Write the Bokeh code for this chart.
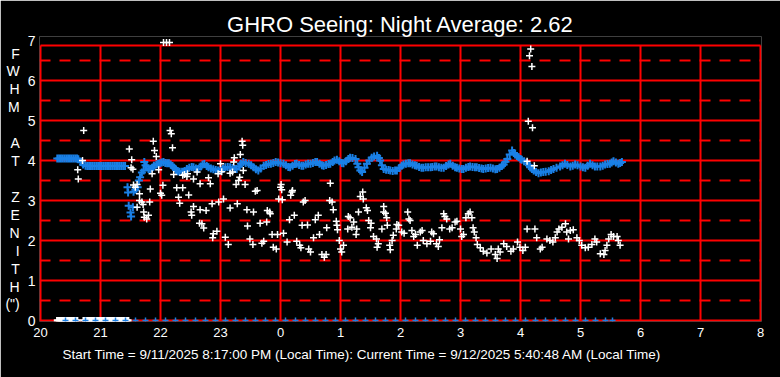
from bokeh.plotting import figure
from bokeh.models import FixedTicker, ColumnDataSource, Title
from bokeh.embed import file_html
from bokeh.resources import INLINE

# ---------------- data ----------------
title_text = "GHRO Seeing: Night Average: 2.62"
footer_text = ("Start Time = 9/11/2025 8:17:00 PM (Local Time): "
               "Current Time = 9/12/2025 5:40:48 AM (Local Time)")
y_letters = ["F", "W", "H", "M", " ", "A", "T", " ", "Z", "E", "N", "I", "T", "H", '(")']
hour_ticks = [20, 21, 22, 23, 24, 25, 26, 27, 28, 29, 30, 31, 32]
hour_labels = ["20", "21", "22", "23", "0", "1", "2", "3", "4", "5", "6", "7", "8"]
y_ticks = [0, 1, 2, 3, 4, 5, 6, 7]

# white "+" : measured FWHM (hours after 20:00 continue past 24)
white_t = [20.72, 20.70, 20.62, 20.63, 21.48, 21.52, 21.51, 21.54, 21.55, 21.61, 21.58, 21.65, 21.65, 21.69,
           21.61, 21.71, 21.72, 21.73, 21.77, 21.80, 21.88, 21.90, 21.93, 21.86, 21.83, 21.82, 21.97, 22.00,
           22.02, 22.04, 22.16, 22.18, 22.20, 22.22, 22.27, 22.30, 22.32, 22.37, 22.37, 22.47, 22.55, 22.51,
           22.52, 22.55, 22.61, 22.65, 22.45, 22.66, 22.80, 22.83, 22.66, 22.76, 22.86, 22.97, 23.05, 23.16,
           23.28, 23.44, 23.55, 23.66, 23.78, 23.83, 23.77, 23.97, 24.00, 22.69, 22.72, 22.88, 22.87, 22.94,
           23.08, 23.13, 23.45, 23.49, 23.54, 23.69, 23.86, 23.95, 23.88, 23.00, 23.23, 23.22, 23.33, 23.36,
           23.37, 23.38, 23.32, 23.30, 23.26, 23.41, 23.61, 23.20, 23.02, 22.44, 22.40, 22.96, 23.16, 23.58,
           24.01, 24.02, 24.20, 24.19, 24.17, 24.03, 23.82, 23.72, 23.93, 24.05, 24.15, 24.23, 24.11, 24.27,
           24.32, 24.34, 24.36, 24.45, 24.38, 24.41, 24.55, 24.58, 24.63, 24.65, 24.47, 24.50, 24.69, 24.73,
           24.76, 24.77, 24.82, 24.86, 24.88, 24.83, 24.93, 24.94, 24.95, 24.98, 25.00, 25.02, 25.05, 25.12,
           25.13, 25.16, 25.19, 25.22, 25.27, 25.26, 25.33, 25.37, 25.38, 25.43, 25.45, 25.30, 25.47, 25.50,
           25.51, 25.55, 25.60, 25.61, 25.63, 25.69, 25.72, 25.75, 25.77, 25.72, 25.78, 25.82, 25.83, 25.86,
           25.88, 25.94, 25.97, 25.93, 26.02, 26.06, 26.12, 26.14, 26.16, 26.19, 26.22, 26.25, 26.28, 26.33,
           26.36, 26.38, 26.44, 26.50, 26.52, 26.55, 26.60, 26.63, 26.65, 26.69, 26.72, 26.74, 26.77, 26.82,
           26.86, 26.91, 26.94, 27.00, 27.02, 27.05, 27.09, 27.13, 27.16, 27.19, 27.21, 27.23, 27.26, 27.28,
           27.33, 27.38, 27.44, 27.51, 27.58, 27.63, 27.61, 27.66, 27.72, 27.77, 27.84, 27.88, 27.95, 27.99,
           28.04, 28.08, 28.11, 28.24, 28.27, 28.33, 28.36, 28.44, 28.49, 28.54, 28.58, 28.61, 28.64, 28.69,
           28.75, 28.77, 28.80, 28.83, 28.88, 28.94, 28.98, 29.02, 29.08, 29.13, 29.19, 29.24, 29.27, 29.33,
           29.39, 29.41, 29.44, 29.47, 29.51, 29.55, 29.61, 29.63, 29.66, 28.11, 28.23, 28.17, 28.15, 28.19,
           28.13, 28.20, 22.05, 22.10, 22.15]
white_fwhm = [4.75, 4.00, 3.77, 3.54, 4.29, 4.02, 3.82, 3.78, 3.39, 3.40, 3.33, 3.17, 3.00, 2.96,
              2.83, 2.90, 2.71, 2.58, 2.54, 2.63, 4.48, 4.25, 4.10, 3.67, 3.29, 2.96, 3.77, 3.18,
              3.13, 3.38, 4.75, 4.67, 4.32, 3.65, 3.32, 3.08, 2.93, 3.32, 3.63, 3.14, 3.54, 2.71,
              2.63, 2.85, 3.71, 2.43, 3.67, 3.42, 3.57, 3.42, 2.77, 2.75, 2.92, 2.96, 3.04, 2.81,
              2.92, 2.77, 2.71, 2.43, 2.75, 2.67, 2.46, 3.04, 3.33, 2.42, 2.31, 2.17, 2.07, 2.23,
              2.08, 1.90, 2.36, 2.04, 1.90, 1.93, 2.15, 2.15, 1.83, 3.92, 4.07, 3.96, 4.15, 4.48,
              4.38, 3.75, 3.58, 3.50, 3.40, 3.40, 3.25, 3.71, 3.72, 3.60, 3.65, 3.67, 3.68, 3.23,
              3.40, 3.27, 3.25, 3.21, 3.13, 3.02, 2.71, 1.98, 1.79, 2.18, 2.52, 2.63, 1.96, 1.98,
              1.88, 1.82, 2.38, 2.39, 2.96, 3.00, 2.07, 2.52, 2.63, 2.15, 1.79, 1.71, 1.65, 1.58,
              1.65, 2.32, 3.00, 2.96, 2.77, 3.43, 2.48, 2.38, 2.27, 2.00, 1.79, 1.71, 1.88, 2.29,
              2.60, 2.57, 2.33, 2.46, 2.29, 2.15, 3.10, 3.21, 3.04, 2.82, 2.75, 2.71, 2.50, 2.32,
              2.43, 2.10, 2.04, 1.83, 1.92, 2.29, 2.85, 2.68, 2.57, 2.71, 2.38, 1.88, 1.77, 2.00,
              2.13, 2.40, 2.38, 2.29, 2.21, 2.18, 2.71, 2.54, 2.50, 2.25, 2.10, 2.15, 1.88, 2.21,
              2.25, 2.00, 1.92, 1.98, 2.21, 2.17, 1.92, 1.85, 2.02, 2.32, 2.67, 2.60, 2.54, 2.29,
              2.32, 2.46, 2.48, 2.29, 2.10, 2.15, 2.57, 2.67, 2.71, 2.57, 2.32, 2.21, 2.07, 1.90,
              1.82, 1.73, 1.69, 1.79, 1.65, 1.79, 1.55, 1.71, 1.92, 1.85, 1.73, 1.79, 1.96, 1.83,
              1.75, 1.83, 2.29, 2.29, 2.07, 1.79, 1.83, 2.04, 2.00, 1.96, 2.07, 2.21, 2.29, 2.33,
              2.42, 2.21, 2.04, 2.25, 2.27, 2.07, 2.00, 1.88, 1.82, 1.83, 1.90, 2.04, 1.96, 1.67,
              1.65, 1.75, 1.88, 2.04, 2.15, 2.10, 2.10, 2.00, 1.88, 3.98, 3.87, 6.79, 6.62, 6.35,
              4.98, 4.82, 6.95, 6.95, 6.95]

# blue "+" series
blue_t = [20.28, 20.31, 20.34, 20.37, 20.40, 20.43, 20.46, 20.49, 20.52, 20.55, 20.58, 20.61,
          20.63, 20.67, 20.71, 20.75, 20.78, 20.81, 20.84, 20.87, 20.90, 20.93, 20.96, 20.99,
          21.02, 21.05, 21.08, 21.11, 21.14, 21.17, 21.20, 21.23, 21.26, 21.29, 21.32, 21.35,
          21.38, 21.41, 21.45, 21.46, 21.47, 21.50, 21.51, 21.54, 21.55, 21.58, 21.62, 21.64,
          21.66, 21.69, 21.72, 21.73,
          21.75, 21.77, 21.80, 21.83, 21.86, 21.89, 21.93, 21.96, 21.99, 22.02, 22.05, 22.08,
          22.11, 22.14, 22.17, 22.20, 22.23, 22.26, 22.29, 22.32, 22.36, 22.40, 22.44, 22.48,
          22.52, 22.55, 22.59, 22.63, 22.67, 22.70, 22.73, 22.77, 22.80, 22.84, 22.88, 22.92,
          22.96, 23.00, 23.04, 23.08, 23.12, 23.16, 23.20, 23.24, 23.27, 23.31, 23.34, 23.38,
          23.42, 23.47, 23.51, 23.55, 23.59, 23.63, 23.67, 23.72, 23.76, 23.80, 23.84, 23.88,
          23.92, 23.96, 24.00, 24.05, 24.09, 24.13, 24.16, 24.20, 24.24, 24.27, 24.31, 24.35,
          24.38, 24.42, 24.46, 24.50, 24.54, 24.58, 24.61, 24.65, 24.69, 24.72, 24.76, 24.80,
          24.83, 24.87, 24.90, 24.94, 24.98, 25.02, 25.05, 25.09, 25.13, 25.16, 25.20, 25.25,
          25.28, 25.30, 25.33, 25.36, 25.40, 25.44, 25.48, 25.52, 25.56, 25.61, 25.64, 25.66,
          25.69, 25.72, 25.76, 25.80, 25.83, 25.87, 25.91, 25.94, 25.98, 26.02, 26.05, 26.09,
          26.13, 26.16, 26.20, 26.24, 26.27, 26.31, 26.35, 26.38, 26.42, 26.46, 26.50, 26.53,
          26.57, 26.60, 26.64, 26.68, 26.72, 26.76, 26.80, 26.83, 26.87, 26.91, 26.94, 26.98,
          27.02, 27.05, 27.09, 27.13, 27.16, 27.20, 27.24, 27.27, 27.31, 27.35, 27.38, 27.42,
          27.46, 27.50, 27.54, 27.58, 27.61, 27.65, 27.69, 27.72, 27.75, 27.78, 27.82, 27.86,
          27.89, 27.91, 27.94, 27.97, 28.00, 28.02, 28.06, 28.11, 28.14, 28.16, 28.19, 28.22,
          28.26, 28.30, 28.34, 28.38, 28.42, 28.47, 28.51, 28.55, 28.60, 28.66, 28.70, 28.74,
          28.78, 28.83, 28.87, 28.91, 28.95, 29.00, 29.04, 29.08, 29.12, 29.16, 29.20, 29.24,
          29.28, 29.33, 29.37, 29.41, 29.45, 29.49, 29.52, 29.55, 29.59, 29.63, 29.66, 29.69]
blue_fwhm = [4.05, 4.05, 4.05, 4.05, 4.05, 4.05, 4.05, 4.05, 4.05, 4.05, 4.05, 4.05,
             4.03, 3.96, 3.90, 3.87, 3.86, 3.86, 3.86, 3.86, 3.86, 3.86, 3.86, 3.86,
             3.86, 3.86, 3.86, 3.86, 3.86, 3.86, 3.86, 3.86, 3.86, 3.86, 3.86, 3.86,
             3.86, 3.86, 3.33, 3.20, 2.87, 2.70, 2.60, 2.83, 3.22, 3.27, 3.33, 3.50,
             3.58, 3.70, 3.75, 3.96,
             3.88, 3.85, 3.79, 3.76, 3.82, 3.87, 3.90, 3.92, 3.93, 3.95, 3.96, 3.94,
             3.93, 3.93, 3.90, 3.86, 3.81, 3.76, 3.73, 3.72, 3.72, 3.74, 3.79, 3.82,
             3.84, 3.83, 3.80, 3.79, 3.85, 3.90, 3.91, 3.86, 3.83, 3.80, 3.78, 3.76,
             3.75, 3.75, 3.79, 3.83, 3.84, 3.83, 3.81, 3.79, 3.79, 3.85, 3.92, 3.96,
             3.94, 3.92, 3.88, 3.83, 3.78, 3.75, 3.80, 3.87, 3.89, 3.91, 3.92, 3.94,
             3.96, 3.95, 3.93, 3.92, 3.88, 3.84, 3.83, 3.87, 3.91, 3.92, 3.89, 3.87,
             3.87, 3.90, 3.92, 3.92, 3.94, 3.96, 3.96, 3.92, 3.88, 3.87, 3.89, 3.91,
             3.92, 3.96, 4.00, 4.02, 3.98, 3.94, 3.93, 3.98, 4.04, 4.07, 4.06, 4.04,
             3.92, 3.83, 3.75, 3.71, 3.82, 3.92, 4.00, 4.07, 4.10, 4.12, 4.06, 4.00,
             3.88, 3.79, 3.77, 3.76, 3.75, 3.74, 3.75, 3.75, 3.81, 3.87, 3.90, 3.92,
             3.93, 3.93, 3.90, 3.88, 3.87, 3.84, 3.82, 3.82, 3.83, 3.83, 3.83, 3.84,
             3.85, 3.85, 3.83, 3.82, 3.82, 3.86, 3.90, 3.92, 3.87, 3.83, 3.82, 3.80,
             3.79, 3.79, 3.82, 3.84, 3.85, 3.84, 3.83, 3.83, 3.81, 3.80, 3.79, 3.80,
             3.81, 3.82, 3.80, 3.78, 3.79, 3.82, 3.86, 3.90, 3.97, 4.04, 4.15, 4.25,
             4.19, 4.15, 4.11, 4.08, 4.04, 4.02, 3.98, 3.93, 3.88, 3.83, 3.79, 3.75,
             3.71, 3.68, 3.70, 3.71, 3.72, 3.73, 3.76, 3.79, 3.82, 3.85, 3.88, 3.92,
             3.89, 3.85, 3.87, 3.90, 3.88, 3.85, 3.83, 3.82, 3.87, 3.92, 3.88, 3.85,
             3.85, 3.85, 3.87, 3.90, 3.91, 3.92, 3.95, 3.98, 3.95, 3.92, 3.94, 3.96]

# readings that came back as zero (plotted on the baseline)
white_zero_t = [20.28, 20.31, 20.34, 20.37, 20.40, 20.43, 20.46, 20.49, 20.52, 20.55, 20.58, 20.61,
                20.72, 20.75, 20.78, 20.81, 20.84, 20.87, 20.90, 20.93, 20.96, 20.99, 21.02, 21.05,
                21.08, 21.11, 21.14, 21.17, 21.20, 21.23, 21.26, 21.29, 21.32, 21.35, 21.38, 21.41,
                21.44, 21.46]
blue_zero_min = [25, 35, 45, 55, 65, 75, 85, 95, 105, 115, 125, 135, 145, 155, 165, 175, 185, 195,
                 205, 215, 225, 235, 245, 255, 265, 275, 285, 295, 305, 315, 325, 335, 345, 355,
                 365, 375, 385, 395, 405, 415, 425, 435, 445, 455, 465, 475, 485, 495, 505, 515,
                 525, 535, 545, 555, 565, 572]

# ---------------- layout helpers ----------------
W, H = 780, 377
LEFT, RIGHT, TOP, BOTTOM = 39, 19, 36, 56
PX_PER_H, PX_PER_Y = 60.0, 40.0
RED = "#ff0000"
BLUE = "#1a80e6"
FONT = "Liberation Sans"

x_start = 20 - 1 / PX_PER_H
x_end = x_start + (W - LEFT - RIGHT) / PX_PER_H
y_start = -1 / PX_PER_Y
y_end = y_start + (H - TOP - BOTTOM) / PX_PER_Y
frame_top_val = (320 - 45) / PX_PER_Y

p = figure(width=W, height=H, x_range=(x_start, x_end), y_range=(y_start, y_end),
           output_backend="svg", toolbar_location=None,
           background_fill_color="black", border_fill_color="black",
           outline_line_color=None,
           min_border_left=LEFT, min_border_right=RIGHT,
           min_border_top=TOP, min_border_bottom=BOTTOM)

# grid: solid at integers, dashed at halves
p.xgrid.visible = False
p.ygrid.ticker = FixedTicker(ticks=[0, 1, 2, 3, 4, 5, 6],
                             minor_ticks=[0.5, 1.5, 2.5, 3.5, 4.5, 5.5, 6.5])
p.ygrid.grid_line_color = RED
p.ygrid.grid_line_width = 2
p.ygrid.grid_line_alpha = 1
p.ygrid.minor_grid_line_color = RED
p.ygrid.minor_grid_line_width = 2
p.ygrid.minor_grid_line_dash = "11 9"

# vertical hour lines and top border
p.segment(x0=hour_ticks, y0=[0] * len(hour_ticks), x1=hour_ticks,
          y1=[frame_top_val] * len(hour_ticks), line_color=RED, line_width=2)
p.segment(x0=[hour_ticks[0]], y0=[frame_top_val], x1=[hour_ticks[-1]], y1=[frame_top_val],
          line_color=RED, line_width=2)

# axes
p.xaxis.ticker = FixedTicker(ticks=hour_ticks)
p.xaxis.major_label_overrides = {t: lab for t, lab in zip(hour_ticks, hour_labels)}
p.yaxis.ticker = FixedTicker(ticks=y_ticks)
for ax in (p.xaxis[0], p.yaxis[0]):
    ax.axis_line_color = None
    ax.major_tick_line_color = None
    ax.minor_tick_line_color = None
    ax.major_tick_out = 0
    ax.major_tick_in = 0
    ax.minor_tick_out = 0
    ax.minor_tick_in = 0
    ax.major_label_text_color = "white"
    ax.major_label_text_font = FONT
p.xaxis.major_label_text_font_size = "13px"
p.xaxis.major_label_standoff = 6
p.yaxis.major_label_text_font_size = "14px"
p.yaxis.major_label_standoff = 4

# stacked vertical axis title
p.yaxis.axis_label = "\n".join(y_letters)
p.yaxis.axis_label_orientation = "horizontal"
p.yaxis.axis_label_text_color = "white"
p.yaxis.axis_label_text_font = FONT
p.yaxis.axis_label_text_font_style = "normal"
p.yaxis.axis_label_text_font_size = "14px"
p.yaxis.axis_label_text_line_height = 1.12
p.yaxis.axis_label_text_align = "center"
p.yaxis.axis_label_standoff = 5

# data
src_w = ColumnDataSource(dict(t=white_t, v=white_fwhm))
src_b = ColumnDataSource(dict(t=blue_t, v=blue_fwhm))
src_wz = ColumnDataSource(dict(t=white_zero_t, v=[0.0] * len(white_zero_t)))
src_bz = ColumnDataSource(dict(t=[20 + m / 60 for m in blue_zero_min], v=[0.0] * len(blue_zero_min)))

p.scatter("t", "v", source=src_b, marker="cross", size=8, line_width=2, line_color=BLUE)
p.scatter("t", "v", source=src_w, marker="cross", size=7, line_width=1.5, line_color="white")
p.scatter("t", "v", source=src_wz, marker="cross", size=7, line_width=2.5, line_color="white")
p.scatter("t", "v", source=src_bz, marker="cross", size=6, line_width=1.5, line_color=BLUE)

# titles
p.add_layout(Title(text=title_text, align="center", text_color="white", text_font=FONT,
                   text_font_size="22px", text_font_style="normal", offset=-8,
                   standoff=0), "above")
p.add_layout(Title(text=footer_text, align="left", text_color="white", text_font=FONT,
                   text_font_size="13.5px", text_font_style="normal", offset=23,
                   standoff=10), "below")

open("out.html", "w").write(file_html(p, INLINE))
